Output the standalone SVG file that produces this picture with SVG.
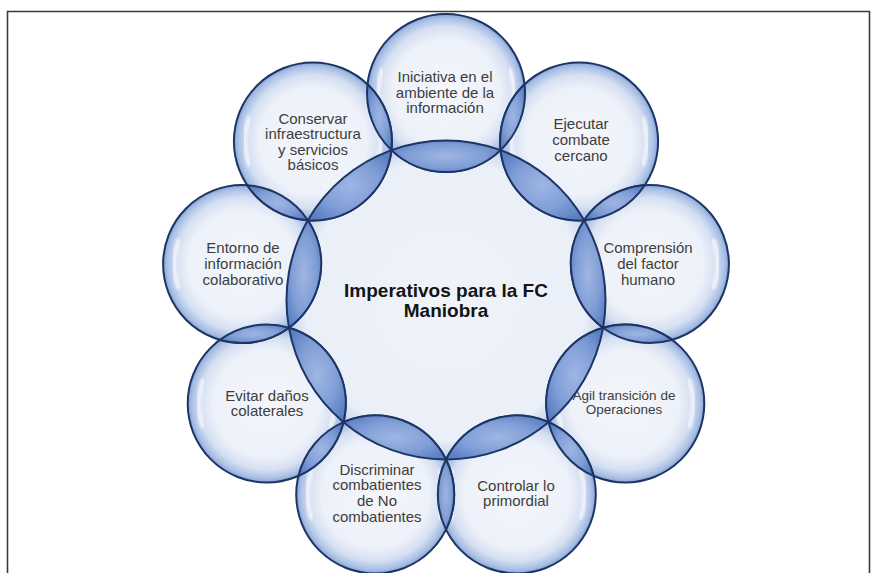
<svg xmlns="http://www.w3.org/2000/svg" xmlns:xlink="http://www.w3.org/1999/xlink" width="874" height="573" viewBox="0 0 874 573">
<defs>
<style>
.t{font-family:"Liberation Sans",Arial,sans-serif;font-size:15px;fill:#3d3d3d;text-anchor:middle}
.ts{font-size:13.5px}
.tc{font-family:"Liberation Sans",Arial,sans-serif;font-size:19px;font-weight:bold;fill:#141414;text-anchor:middle}
.ol{fill:none;stroke:#1d3563;stroke-width:2}
.lens{fill:url(#lensG);stroke:#1d3563;stroke-width:2;stroke-linejoin:round}
.hl{fill:none;stroke:#ffffff;stroke-width:4;stroke-linecap:round;opacity:0.75;filter:url(#blur)}
</style>
<radialGradient id="bubG" cx="50%" cy="50%" r="50%">
<stop offset="0" stop-color="#f4f6fb"/>
<stop offset="0.68" stop-color="#edf1f9"/>
<stop offset="0.84" stop-color="#d6e0f2"/>
<stop offset="0.95" stop-color="#a9bfe5"/>
<stop offset="1" stop-color="#86a2d6"/>
</radialGradient>
<radialGradient id="cenG" cx="50%" cy="50%" r="50%">
<stop offset="0" stop-color="#f1f3f9"/>
<stop offset="0.88" stop-color="#eaeff8"/>
<stop offset="0.96" stop-color="#cfdbf0"/>
<stop offset="1" stop-color="#a7bde4"/>
</radialGradient>
<radialGradient id="lensG" cx="50%" cy="50%" r="60%">
<stop offset="0" stop-color="#9fb6e3"/>
<stop offset="0.6" stop-color="#7f9dd6"/>
<stop offset="1" stop-color="#5b7fc2"/>
</radialGradient>
<filter id="blur" x="-20%" y="-20%" width="140%" height="140%"><feGaussianBlur stdDeviation="1.5"/></filter>
<g id="bubble">
<circle r="79" fill="url(#bubG)"/>
<path class="hl" d="M-63.9,-23.3 A68,68 0 0 0 -63.9,23.3"/>
<path class="hl" d="M63.9,-23.3 A68,68 0 0 1 63.9,23.3"/>
<circle r="79" class="ol"/>
</g>
</defs>
<rect width="874" height="573" fill="#ffffff"/>
<path d="M7.5,573 V11.5 H869.5 V573" fill="none" stroke="#3a3a3a" stroke-width="1.6"/>

<g id="center">
<circle cx="446" cy="300" r="159.5" fill="url(#cenG)"/>
<circle cx="446" cy="300" r="159.5" class="ol"/>
<text class="tc" x="446" y="297">Imperativos para la FC</text>
<text class="tc" x="446" y="317">Maniobra</text>
</g>

<g id="n0">
<use xlink:href="#bubble" x="446" y="93"/>
<text class="t" x="445" y="82">Iniciativa en el</text>
<text class="t" x="445" y="97.6">ambiente de la</text>
<text class="t" x="445" y="113.2">información</text>
</g>
<g id="n1">
<use xlink:href="#bubble" x="579.1" y="141.4"/>
<text class="t" x="581" y="129">Ejecutar</text>
<text class="t" x="581" y="145">combate</text>
<text class="t" x="581" y="161">cercano</text>
</g>
<g id="n2">
<use xlink:href="#bubble" x="649.9" y="264.1"/>
<text class="t" x="648" y="253.4">Comprensión</text>
<text class="t" x="648" y="269">del factor</text>
<text class="t" x="648" y="284.6">humano</text>
</g>
<g id="n3">
<use xlink:href="#bubble" x="625.3" y="403.5"/>
<text class="t ts" x="624" y="400.3">Agil transición de</text>
<text class="t ts" x="624" y="414.3">Operaciones</text>
</g>
<g id="n4">
<use xlink:href="#bubble" x="516.8" y="494.5"/>
<text class="t" x="516" y="490.7">Controlar lo</text>
<text class="t" x="516" y="506.3">primordial</text>
</g>
<g id="n5">
<use xlink:href="#bubble" x="375.2" y="494.5"/>
<text class="t" x="377" y="474.7">Discriminar</text>
<text class="t" x="377" y="490.3">combatientes</text>
<text class="t" x="377" y="505.9">de No</text>
<text class="t" x="377" y="521.5">combatientes</text>
</g>
<g id="n6">
<use xlink:href="#bubble" x="266.7" y="403.5"/>
<text class="t" x="267" y="400.7">Evitar daños</text>
<text class="t" x="267" y="416.3">colaterales</text>
</g>
<g id="n7">
<use xlink:href="#bubble" x="242.1" y="264.1"/>
<text class="t" x="243" y="253.3">Entorno de</text>
<text class="t" x="243" y="268.9">información</text>
<text class="t" x="243" y="284.5">colaborativo</text>
</g>
<g id="n8">
<use xlink:href="#bubble" x="312.9" y="141.4"/>
<text class="t" x="313" y="123.5">Conservar</text>
<text class="t" x="313" y="139.1">infraestructura</text>
<text class="t" x="313" y="154.7">y servicios</text>
<text class="t" x="313" y="170.3">básicos</text>
</g>

<g id="connectors">
<path class="lens" d="M391.45,150.12 A159.5,159.5 0 0 1 500.55,150.12 A79,79 0 0 1 391.45,150.12 Z"/>
<path class="lens" d="M500.55,150.12 A159.5,159.5 0 0 1 584.13,220.25 A79,79 0 0 1 500.55,150.12 Z"/>
<path class="lens" d="M584.13,220.25 A159.5,159.5 0 0 1 603.08,327.7 A79,79 0 0 1 584.13,220.25 Z"/>
<path class="lens" d="M603.08,327.7 A159.5,159.5 0 0 1 548.52,422.18 A79,79 0 0 1 603.08,327.7 Z"/>
<path class="lens" d="M548.52,422.18 A159.5,159.5 0 0 1 446,459.5 A79,79 0 0 1 548.52,422.18 Z"/>
<path class="lens" d="M446,459.5 A159.5,159.5 0 0 1 343.48,422.18 A79,79 0 0 1 446,459.5 Z"/>
<path class="lens" d="M343.48,422.18 A159.5,159.5 0 0 1 288.92,327.7 A79,79 0 0 1 343.48,422.18 Z"/>
<path class="lens" d="M288.92,327.7 A159.5,159.5 0 0 1 307.87,220.25 A79,79 0 0 1 288.92,327.7 Z"/>
<path class="lens" d="M307.87,220.25 A159.5,159.5 0 0 1 391.45,150.12 A79,79 0 0 1 307.87,220.25 Z"/>
<path class="lens" d="M500.55,150.12 A79,79 0 0 0 524.52,84.27 A79,79 0 0 0 500.55,150.12 Z"/>
<path class="lens" d="M584.13,220.25 A79,79 0 0 0 644.81,185.21 A79,79 0 0 0 584.13,220.25 Z"/>
<path class="lens" d="M603.08,327.7 A79,79 0 0 0 672.08,339.86 A79,79 0 0 0 603.08,327.7 Z"/>
<path class="lens" d="M548.52,422.18 A79,79 0 0 0 593.57,475.86 A79,79 0 0 0 548.52,422.18 Z"/>
<path class="lens" d="M446,459.5 A79,79 0 0 0 446,529.57 A79,79 0 0 0 446,459.5 Z"/>
<path class="lens" d="M343.48,422.18 A79,79 0 0 0 298.43,475.86 A79,79 0 0 0 343.48,422.18 Z"/>
<path class="lens" d="M288.92,327.7 A79,79 0 0 0 219.92,339.86 A79,79 0 0 0 288.92,327.7 Z"/>
<path class="lens" d="M307.87,220.25 A79,79 0 0 0 247.19,185.21 A79,79 0 0 0 307.87,220.25 Z"/>
<path class="lens" d="M391.45,150.12 A79,79 0 0 0 367.48,84.27 A79,79 0 0 0 391.45,150.12 Z"/>
</g>
</svg>
